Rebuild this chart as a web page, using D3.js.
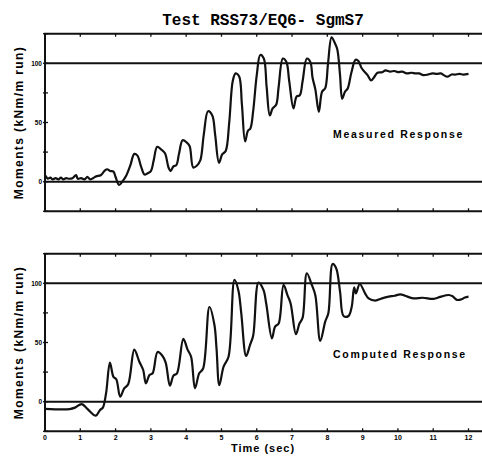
<!DOCTYPE html>
<html><head><meta charset="utf-8">
<script src="https://cdn.jsdelivr.net/npm/d3@7"></script>
<style>body{margin:0;background:#fff;} svg{display:block;}</style>
</head><body>
<svg id="c" width="482" height="456"></svg>
<script>
const title = "Test RSS73/EQ6- SgmS7";
const yLabel = "Moments (kNm/m run)";
const xLabel = "Time (sec)";
const panelLabels = ["Measured Response", "Computed Response"];
const xTicks = [0,1,2,3,4,5,6,7,8,9,10,11,12];
const yTicks = [-25,0,25,50,75,100,125];
const yTickLabels = [0,50,100];
const refLines = [0,100];

const measuredT = [0.02,0.08,0.15,0.22,0.3,0.38,0.45,0.52,0.6,0.68,0.78,0.88,0.93,1.02,1.12,1.2,1.28,1.36,1.45,1.58,1.7,1.76,1.85,1.94,2.0,2.1,2.2,2.3,2.42,2.53,2.62,2.72,2.82,2.9,3.0,3.08,3.18,3.3,3.4,3.5,3.56,3.64,3.72,3.8,3.9,4.02,4.1,4.2,4.3,4.4,4.5,4.62,4.74,4.82,4.93,5.02,5.12,5.22,5.32,5.4,5.5,5.58,5.67,5.75,5.82,5.9,6.0,6.1,6.2,6.28,6.37,6.45,6.55,6.62,6.74,6.84,6.92,7.04,7.13,7.22,7.3,7.42,7.52,7.58,7.66,7.76,7.85,7.94,8.02,8.12,8.2,8.28,8.36,8.42,8.5,8.58,8.68,8.8,8.88,8.97,9.05,9.14,9.24,9.32,9.42,9.55,9.65,9.78,9.9,10.0,10.12,10.25,10.38,10.5,10.6,10.72,10.85,10.98,11.1,11.22,11.3,11.4,11.52,11.62,11.75,11.85,12.0];
const measuredV = [5,2.5,3.5,2,3,2,3.5,2,3,2.5,3,5.5,2.5,3,2,4,2,3,4.5,5.5,9.5,10.5,9,8.5,4,-2.8,0.5,5,14,23.5,22,13,6,7,9,18,29.5,27,24,12,9,13,14,24,35,33,30,12,13.5,18,40,59.5,56,40,16,23,26,50,85,91.5,89,65,34,43,45,60,90,107,104,80,56,62,65,80,104,101,85,62,72,73,85,104,101,88,78,59,76,79,100,122,118,112,90,70,76,79,92,103,102,96,93,90,85.5,88,92,92.5,94,93,93.5,92.5,93,91.5,92,91.5,91.5,90,90.5,91.5,91,91.5,90,88.7,90.5,90.5,91,90.5,91];

const computedT = [0,0.7,0.85,1.04,1.2,1.44,1.56,1.64,1.73,1.84,1.94,2.02,2.13,2.24,2.36,2.53,2.67,2.78,2.86,2.96,3.05,3.19,3.32,3.42,3.54,3.64,3.74,3.92,4.04,4.14,4.25,4.37,4.48,4.66,4.8,4.86,4.94,5.06,5.2,5.37,5.48,5.56,5.7,5.81,5.9,6.05,6.19,6.27,6.43,6.52,6.62,6.76,6.87,6.96,7.11,7.21,7.3,7.42,7.56,7.66,7.8,7.94,8.03,8.15,8.25,8.36,8.46,8.6,8.69,8.76,8.81,8.92,9.07,9.17,9.36,9.55,9.74,9.9,10.07,10.2,10.44,10.7,11.01,11.2,11.44,11.55,11.67,11.8,11.9,12.0];
const computedV = [-6,-6.2,-5,-2,-6,-11.8,-7,-5,7,33,21,19,4.2,11,15,44,34,27,15.5,22.5,24,42,39,33,13.5,22,24,53,44,38,11.3,24,28,80,65,45,14,29.6,38,103,94,75,38.6,48,56,100.6,94.4,82.5,53.5,63.4,66,98.6,90,83,57,66,71,108.5,98.6,90,51.3,67.6,75,116.3,112.7,93,72.4,72.4,80,96.6,91.5,99.4,91.5,87.3,85.4,87.3,88.7,89.5,90.7,89.5,87.3,87.8,86.8,88.5,90.1,89,86,86.5,88,88.7];

const svg = d3.select("#c");
const x = d3.scaleLinear().domain([0,12]).range([45,468.5]);
const xRight = 490;

svg.append("text").attr("x",263).attr("y",25).attr("text-anchor","middle")
  .attr("font-family","Liberation Mono, DejaVu Sans Mono, monospace").attr("font-weight","bold")
  .attr("font-size",16).text(title);

const panels = [
  {t: measuredT, v: measuredV, y: d3.scaleLinear().domain([0,100]).range([181.7,63.3]), label: panelLabels[0], lx: 333, ly: 138, xlabels:false},
  {t: computedT, v: computedV, y: d3.scaleLinear().domain([0,100]).range([401.7,283.3]), label: panelLabels[1], lx: 333, ly: 358, xlabels:true}
];

panels.forEach(p => {
  const y = p.y;
  const g = svg.append("g");
  const top = y(125), bot = y(-25);
  g.append("path").attr("d", `M${xRight},${top}H${x(0)}V${bot}H${xRight}`)
    .attr("fill","none").attr("stroke","#111").attr("stroke-width",2);
  g.selectAll(".ref").data(refLines).join("line")
    .attr("x1",x(0)).attr("x2",xRight).attr("y1",d=>y(d)).attr("y2",d=>y(d))
    .attr("stroke","#111").attr("stroke-width",2);
  g.selectAll(".tt").data(xTicks).join("line")
    .attr("x1",d=>x(d)).attr("x2",d=>x(d)).attr("y1",top).attr("y2",top+3)
    .attr("stroke","#111").attr("stroke-width",1.3);
  g.selectAll(".tb").data(xTicks).join("line")
    .attr("x1",d=>x(d)).attr("x2",d=>x(d)).attr("y1",bot).attr("y2",bot-3)
    .attr("stroke","#111").attr("stroke-width",1.3);
  g.selectAll(".yt").data(yTicks).join("line")
    .attr("x1",x(0)-2).attr("x2",x(0)+3).attr("y1",d=>y(d)).attr("y2",d=>y(d))
    .attr("stroke","#111").attr("stroke-width",1.3);
  g.selectAll(".yl").data(yTickLabels).join("text")
    .attr("x",x(0)-3).attr("y",d=>y(d)+2.5).attr("text-anchor","end")
    .attr("font-family","Liberation Sans, Arial, sans-serif").attr("font-weight","bold")
    .attr("font-size",6.5).text(d=>d);
  if (p.xlabels) {
    g.selectAll(".xl").data(xTicks).join("text")
      .attr("x",d=>x(d)).attr("y",bot+8.5).attr("text-anchor","middle")
      .attr("font-family","Liberation Sans, Arial, sans-serif").attr("font-weight","bold")
      .attr("font-size",7).text(d=>d);
  }
  const cy = (top+bot)/2;
  g.append("text").attr("transform",`translate(23,${cy}) rotate(-90)`).attr("text-anchor","middle")
    .attr("font-family","Liberation Sans, Arial, sans-serif").attr("font-weight","bold")
    .attr("font-size",12).attr("letter-spacing",1.4).text(yLabel);
  g.append("text").attr("x",p.lx).attr("y",p.ly)
    .attr("font-family","Liberation Sans, Arial, sans-serif").attr("font-weight","bold")
    .attr("font-size",10.5).attr("letter-spacing",1.7).text(p.label);
  const data = p.t.map((t,i)=>[t,p.v[i]]);
  g.append("path").datum(data)
    .attr("d", d3.line().x(d=>x(d[0])).y(d=>y(d[1])).curve(d3.curveCatmullRom.alpha(0.5)))
    .attr("fill","none").attr("stroke","#111").attr("stroke-width",2.2).attr("stroke-linejoin","round");
});

svg.append("text").attr("x",263).attr("y",452).attr("text-anchor","middle")
  .attr("font-family","Liberation Sans, Arial, sans-serif").attr("font-weight","bold")
  .attr("font-size",11).attr("letter-spacing",1).text(xLabel);
</script>
</body></html>
